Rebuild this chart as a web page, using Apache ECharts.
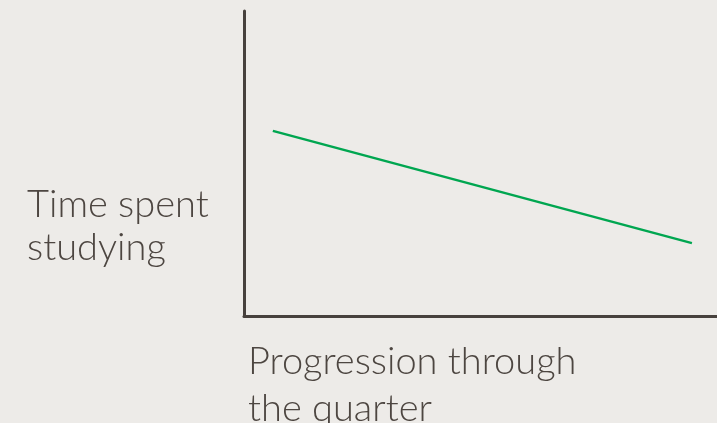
<!DOCTYPE html>
<html>
<head>
<meta charset="utf-8">
<script src="https://cdn.jsdelivr.net/npm/echarts@6/dist/echarts.min.js"></script>
<style>
html,body{margin:0;padding:0;background:#edebe8;}
#main{width:717px;height:423px;}
</style>
</head>
<body>
<div id="main"></div>
<script>
// progression (0-100) and relative study time (0-100)
var progress = [6.1, 94.7];
var studyTime = [60.7, 23.9];
var yLabel = 'Time spent\nstudying';
var xLabel = 'Progression through\nthe quarter';

var chart = echarts.init(document.getElementById('main'));
var textColor = '#4d4641';
var axisColor = '#47413d';
chart.setOption({
	backgroundColor: '#edebe8',
	animation: false,
	grid: {left: 244, right: 0, top: 11, bottom: 107},
	xAxis: {
		type: 'value', min: 0, max: 100,
		axisLine: {show: true, lineStyle: {color: axisColor, width: 3}},
		axisTick: {show: false}, axisLabel: {show: false}, splitLine: {show: false}
	},
	yAxis: {
		type: 'value', min: 0, max: 100,
		axisLine: {show: true, lineStyle: {color: axisColor, width: 3}},
		axisTick: {show: false}, axisLabel: {show: false}, splitLine: {show: false}
	},
	graphic: [
		{type: 'text', left: 27, top: 183, style: {text: yLabel, fill: textColor, font: '300 38px Lato', lineHeight: 43}},
		{type: 'text', left: 248, top: 338, style: {text: xLabel, fill: textColor, font: '300 38px Lato', lineHeight: 47}}
	],
	series: [{
		type: 'line',
		data: progress.map(function(p, i){ return [p, studyTime[i]]; }),
		symbol: 'none',
		lineStyle: {color: '#00a650', width: 2.5}
	}]
});
</script>
</body>
</html>
